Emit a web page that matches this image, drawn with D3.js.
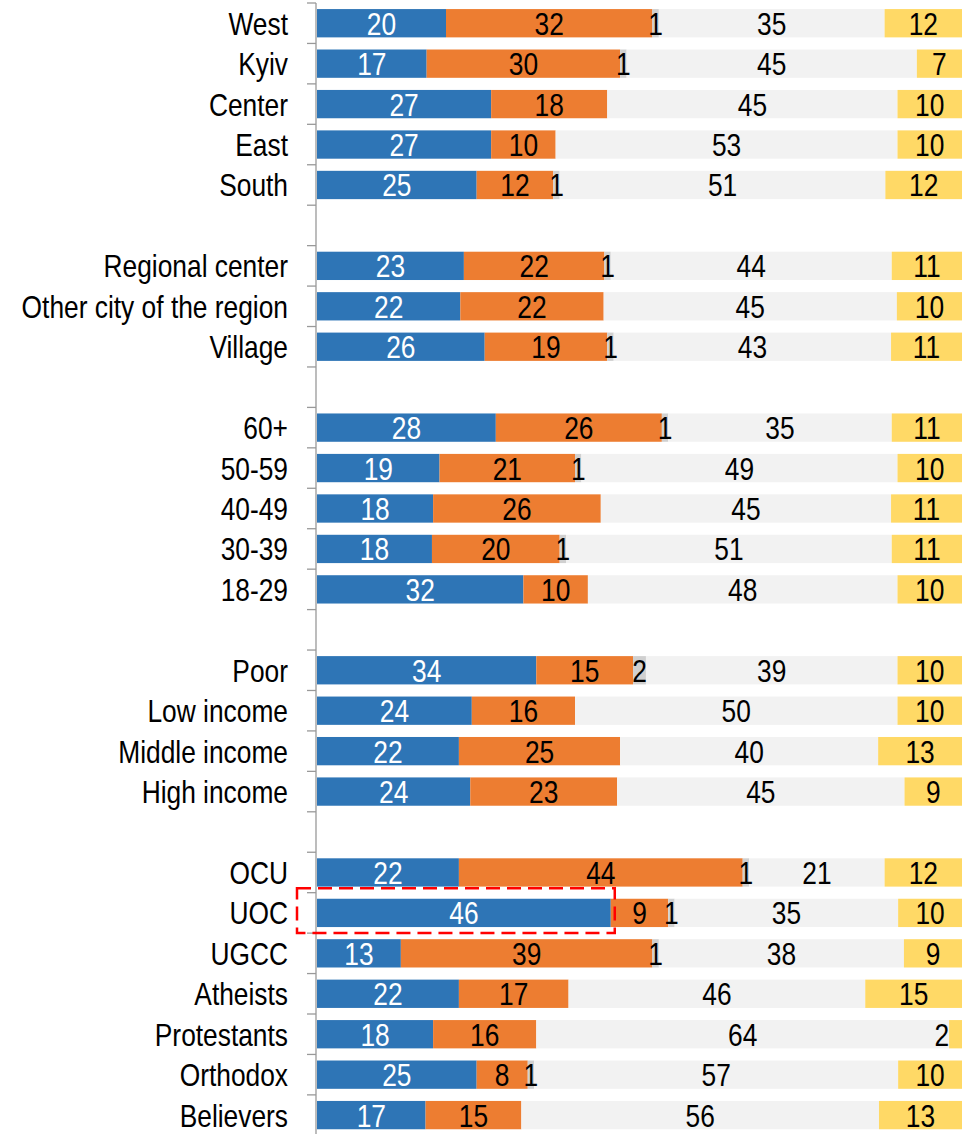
<!DOCTYPE html>
<html>
<head>
<meta charset="utf-8">
<script src="https://cdn.jsdelivr.net/npm/d3@7/dist/d3.min.js"></script>
<style>
  html, body { margin: 0; padding: 0; background: #ffffff; }
  svg text { font-family: 'Liberation Sans Narrow', 'Arial Narrow', 'Liberation Sans', Arial, sans-serif; }
</style>
</head>
<body>
<svg id="chart" width="978" height="1134"></svg>
<script>
// ---- Data (blank strings are empty separator rows) ----
const categories = ["West","Kyiv","Center","East","South","",
  "Regional center","Other city of the region","Village","",
  "60+","50-59","40-49","30-39","18-29","",
  "Poor","Low income","Middle income","High income","",
  "OCU","UOC","UGCC","Atheists","Protestants","Orthodox","Believers"];
const seriesKeys = ["s1","s2","s3","s4","s5"];
const s1 = [20,17,27,27,25,null,23,22,26,null,28,19,18,18,32,null,34,24,22,24,null,22,46,13,22,18,25,17];
const s2 = [32,30,18,10,12,null,22,22,19,null,26,21,26,20,10,null,15,16,25,23,null,44,9,39,17,16,8,15];
const s3 = [1,1,0,0,1,null,1,0,1,null,1,1,0,1,0,null,2,0,0,0,null,1,1,1,0,0,1,0];
const s4 = [35,45,45,53,51,null,44,45,43,null,35,49,45,51,48,null,39,50,40,45,null,21,35,38,46,64,57,56];
const s5 = [12,7,10,10,12,null,11,10,11,null,11,10,11,11,10,null,10,10,13,9,null,12,10,9,15,2,10,13];
const colors = ["#2e75b6","#ed7d31","#d0d0d0","#f2f2f2","#ffd966"];
const labelColors = ["#ffffff","#000000","#000000","#000000","#000000"];
const highlightRow = "UOC";

// ---- Build table ----
const rows = categories.map((c, i) => ({
  idx: i, cat: c,
  s1: s1[i] || 0, s2: s2[i] || 0, s3: s3[i] || 0, s4: s4[i] || 0, s5: s5[i] || 0,
  blank: s1[i] == null
}));

const svg = d3.select("#chart");
const axisX = 316;
const xLeft = 317, xRight = 962;
const yTop = 3, step = 40.44;
const FS = 31, SX = 0.85;

const y = d3.scaleBand()
  .domain(d3.range(categories.length))
  .range([yTop, yTop + step * categories.length])
  .paddingInner(0).paddingOuter(0);
const x = d3.scaleLinear().domain([0, 1]).range([xLeft, xRight]);

const stack = d3.stack().keys(seriesKeys).offset(d3.stackOffsetExpand);
const stacked = stack(rows.filter(r => !r.blank));

const barPad = 0.15;
const barH = y.bandwidth() * (1 - 2 * barPad);

const g = svg.append("g");
stacked.forEach((layer, li) => {
  const lg = g.append("g").attr("fill", colors[li]);
  lg.selectAll("rect").data(layer).join("rect")
    .attr("x", d => x(d[0]))
    .attr("width", d => Math.max(0, x(d[1]) - x(d[0])))
    .attr("y", d => y(d.data.idx) + y.bandwidth() * barPad)
    .attr("height", barH);
});

function placeText(t, px, py, anchor) {
  t.attr("transform", `translate(${px},${py}) scale(${SX},1)`)
   .attr("text-anchor", anchor);
}

// value labels
stacked.forEach((layer, li) => {
  const key = seriesKeys[li];
  const lg = g.append("g");
  layer.forEach(d => {
    const v = d.data[key];
    if (!v) return;
    const x0 = x(d[0]), x1 = x(d[1]);
    const cy = y(d.data.idx) + y.bandwidth() / 2;
    const t = lg.append("text")
      .attr("dy", "0.37em")
      .attr("font-size", FS)
      .attr("fill", labelColors[li])
      .text(v);
    const w = t.node().getComputedTextLength() * SX;
    if ((x0 + x1) / 2 + w / 2 > xRight) {
      placeText(t, x0, cy, "end");
    } else {
      placeText(t, (x0 + x1) / 2, cy, "middle");
    }
  });
});

// category axis
const axisG = svg.append("g").attr("stroke", "#999999").attr("stroke-width", 1.3);
const yEnd = yTop + step * categories.length;
axisG.append("line").attr("x1", axisX).attr("x2", axisX).attr("y1", yTop).attr("y2", Math.min(yEnd, 1134));
d3.range(categories.length).forEach(i => {
  axisG.append("line").attr("x1", axisX - 9).attr("x2", axisX)
    .attr("y1", y(i)).attr("y2", y(i));
});

// category labels
const lab = svg.append("g");
rows.filter(r => !r.blank).forEach(d => {
  const t = lab.append("text")
    .attr("dy", "0.37em")
    .attr("font-size", FS)
    .attr("fill", "#000000")
    .text(d.cat);
  placeText(t, 288, y(d.idx) + y.bandwidth() / 2, "end");
});

// highlight box around UOC first segment
const hl = stacked[0].find(d => d.data.cat === highlightRow);
if (hl) {
  const top = y(hl.data.idx) - 4.5;
  const bot = y(hl.data.idx) + y.bandwidth();
  svg.append("rect")
    .attr("x", 297).attr("y", top)
    .attr("width", x(hl[1]) + 4 - 297)
    .attr("height", bot - top)
    .attr("fill", "none")
    .attr("stroke", "#ff0000")
    .attr("stroke-width", 2.5)
    .attr("stroke-dasharray", "14,7");
}
</script>
</body>
</html>
